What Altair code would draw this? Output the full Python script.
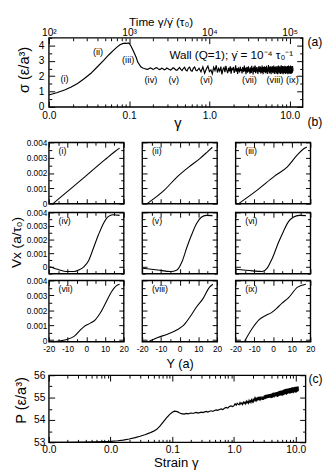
import altair as alt
import numpy as np
import pandas as pd

FONT = "Liberation Sans"

# ---------------- panel (a): shear stress vs strain ----------------
a_gamma_rise = [0.01, 0.0125, 0.0157, 0.019, 0.0228, 0.027, 0.0332, 0.04, 0.0482, 0.056,
                0.0638, 0.07, 0.077, 0.083, 0.089, 0.094, 0.0973, 0.101, 0.105, 0.111,
                0.117, 0.123, 0.128, 0.135, 0.141, 0.148, 0.155, 0.16]
a_sigma_rise = [0.77, 0.92, 1.1, 1.3, 1.53, 1.8, 2.17, 2.6, 3.03, 3.4,
                3.68, 3.88, 4.05, 4.12, 4.15, 4.13, 4.17, 4.12, 3.98, 3.72,
                3.46, 3.2, 2.92, 2.74, 2.6, 2.53, 2.5, 2.47]
a_plateau_range = (0.165, 0.68)
a_sigma_plateau = [2.46, 2.44, 2.5, 2.54, 2.5, 2.45, 2.47, 2.53, 2.56, 2.49,
                   2.43, 2.46, 2.52, 2.48, 2.42, 2.45, 2.53, 2.49, 2.43, 2.4,
                   2.47, 2.55, 2.5, 2.41, 2.38, 2.48, 2.57, 2.44, 2.36, 2.5,
                   2.58, 2.4, 2.34, 2.53, 2.59, 2.37, 2.32, 2.52, 2.6, 2.38]
a_noise_range = (0.7, 11.0)
a_sigma_noise = [
    2.35, 2.52, 2.28, 2.61, 2.19, 2.47, 2.66, 2.3, 2.41, 2.15, 2.58, 2.37, 2.7, 2.24, 2.5, 2.33, 2.62, 2.12, 2.45, 2.56,
    2.26, 2.68, 2.39, 2.2, 2.54, 2.31, 2.64, 2.17, 2.49, 2.43, 2.6, 2.22, 2.36, 2.71, 2.29, 2.51, 2.14, 2.57, 2.4, 2.25,
    2.63, 2.34, 2.48, 2.18, 2.59, 2.42, 2.27, 2.69, 2.32, 2.55, 2.13, 2.46, 2.6, 2.23, 2.38, 2.65, 2.3, 2.5, 2.16, 2.57,
    2.44, 2.21, 2.67, 2.35, 2.53, 2.11, 2.48, 2.62, 2.28, 2.4, 2.7, 2.19, 2.55, 2.33, 2.6, 2.24, 2.45, 2.15, 2.58, 2.37,
    2.66, 2.26, 2.52, 2.31, 2.63, 2.18, 2.47, 2.56, 2.22, 2.69, 2.36, 2.5, 2.13, 2.59, 2.41, 2.27, 2.64, 2.32, 2.54, 2.2,
    2.6, 2.38, 2.25, 2.68, 2.34, 2.49, 2.14, 2.57, 2.43, 2.29, 2.72, 2.3, 2.51, 2.17, 2.62, 2.39, 2.23, 2.65, 2.35, 2.55,
    2.12, 2.58, 2.42, 2.26, 2.67, 2.33, 2.48, 2.19, 2.61, 2.37, 2.24, 2.7, 2.31, 2.53, 2.15, 2.59, 2.44, 2.28, 2.63, 2.36,
    2.5, 2.16, 2.6, 2.4, 2.21, 2.66, 2.34, 2.52, 2.13, 2.57, 2.45, 2.27, 2.69, 2.32, 2.54, 2.18, 2.62, 2.38, 2.25, 2.64,
    2.3, 2.5, 2.14, 2.58, 2.43, 2.22, 2.71, 2.35, 2.49, 2.17, 2.61, 2.39, 2.26, 2.66, 2.33, 2.55, 2.12, 2.59, 2.41, 2.28,
    2.65, 2.31, 2.53, 2.19, 2.6, 2.37, 2.24, 2.68, 2.34, 2.51, 2.15, 2.57, 2.44, 2.29, 2.63, 2.36, 2.48, 2.2, 2.62, 2.4,
    2.23, 2.67, 2.32, 2.54, 2.13, 2.58, 2.42, 2.27, 2.7, 2.35, 2.5, 2.18, 2.61, 2.38, 2.25, 2.65, 2.3, 2.52, 2.16, 2.59,
    2.43, 2.21, 2.69, 2.33, 2.55, 2.14, 2.6, 2.41, 2.28, 2.64, 2.36, 2.49, 2.19, 2.62, 2.39, 2.24, 2.66, 2.31, 2.53, 2.34,
]
a_label_text = ["(i)", "(ii)", "(iii)", "(iv)", "(v)", "(vi)", "(vii)", "(viii)", "(ix)"]
a_label_gamma = [0.0157, 0.041, 0.0973, 0.187, 0.36, 0.92, 3.16, 6.56, 10.8]
a_label_sigma = [1.8, 3.55, 3.08, 1.76, 1.76, 1.76, 1.76, 1.76, 1.76]

# ---------------- panel (b): velocity profiles ----------------
b_names = ["(i)", "(ii)", "(iii)", "(iv)", "(v)", "(vi)", "(vii)", "(viii)", "(ix)"]
b_Y = [
    [-17.8, -10, 0, 10, 15.5, 17.8],
    [-17.4, -8, -1.3, 5, 10.8, 15, 17.5],
    [-18.3, -7.9, 0.7, 7.7, 12.9, 16.4, 18.1],
    [-19.6, -14.3, -10.8, -6.5, -3.9, -1.3, 1.3, 3.9, 6.5, 9.1, 11.7, 14.3, 17.8],
    [-19.8, -11.7, -4.8, -1.4, 1.2, 3.8, 6.4, 9.0, 11.6, 14.2, 17.6],
    [-19.9, -10.9, -5.7, -3.1, -0.5, 3.0, 5.6, 8.2, 10.8, 14.2, 17.6],
    [-17.8, -10.8, -6.5, -3.0, -0.4, 2.2, 4.8, 7.4, 10, 13.4, 16, 17.8],
    [-16.7, -11.7, -6.5, -1.3, 2.2, 5.6, 9.1, 12.6, 16, 17.8],
    [-15.3, -11, -7.5, -4.05, -0.6, 2.0, 5, 8, 13.2, 17.6],
]
b_V = [
    [0, 0.0008, 0.00183, 0.00287, 0.00342, 0.00362],
    [0, 0.0009, 0.00175, 0.0024, 0.00294, 0.0034, 0.00368],
    [0, 0.00093, 0.00178, 0.0024, 0.00316, 0.00358, 0.0037],
    [0, -0.00023, -0.00035, -0.00035, -0.00023, 0, 0.00047, 0.0014, 0.00235, 0.00317, 0.00369, 0.00383, 0.00378],
    [-0.0001, -0.00023, -0.00035, -0.00023, 0.00035, 0.0014, 0.00235, 0.00317, 0.00364, 0.00378, 0.00376],
    [-0.00018, -0.0003, -0.00035, -0.0001, 0.00058, 0.0018, 0.0026, 0.0033, 0.00364, 0.00378, 0.00376],
    [-0.0001, 0.00003, 0.00025, 0.0007, 0.00098, 0.00114, 0.00136, 0.0018, 0.0024, 0.00323, 0.00363, 0.00374],
    [-0.0001, 0.00018, 0.0004, 0.0007, 0.001, 0.00157, 0.00224, 0.0028, 0.00355, 0.00374],
    [-0.0001, 0.0008, 0.00136, 0.00164, 0.00186, 0.00213, 0.0025, 0.0028, 0.00355, 0.00374],
]
b_row_ydom = [[0.0, 0.004], [-0.0005, 0.004], [-0.0001, 0.004]]
b_y_major = [0.0, 0.001, 0.002, 0.003, 0.004]
b_y_minor = [-0.0005, 0.0005, 0.0015, 0.0025, 0.0035]
b_x_major = [-20, -10, 0, 10, 20]
b_x_minor = [-15, -5, 5, 15]

# ---------------- panel (c): pressure vs strain ----------------
c_gamma_rise = [0.001, 0.002, 0.004, 0.006, 0.008, 0.01, 0.013, 0.016, 0.02, 0.025,
                0.03, 0.036, 0.043, 0.05, 0.056, 0.063, 0.071, 0.08, 0.09, 0.1,
                0.108, 0.115, 0.123, 0.13, 0.14, 0.156]
c_P_rise = [53.0, 53.0, 53.01, 53.02, 53.03, 53.04, 53.07, 53.1, 53.15, 53.21,
            53.27, 53.34, 53.42, 53.5, 53.58, 53.72, 53.9, 54.08, 54.24, 54.34,
            54.39, 54.38, 54.36, 54.32, 54.28, 54.26]
c_plateau_range = (0.16, 0.95)
c_P_plateau = [54.27, 54.29, 54.27, 54.30, 54.31, 54.29, 54.32, 54.34, 54.31, 54.33,
               54.35, 54.33, 54.36, 54.38, 54.35, 54.39, 54.41, 54.38, 54.42, 54.45,
               54.43, 54.47, 54.49, 54.46, 54.52, 54.56, 54.53, 54.6, 54.63, 54.6]
c_noise_range = (1.0, 11.0)
c_P_noise = [
    54.64, 54.72, 54.66, 54.75, 54.7, 54.68, 54.78, 54.71, 54.76, 54.69, 54.8, 54.74, 54.79, 54.72, 54.84, 54.77, 54.82, 54.75, 54.87, 54.8, 54.85, 54.78, 54.9, 54.83,
    54.8, 54.95, 54.84, 54.92, 54.98, 54.83, 54.94, 54.88, 55.0, 54.86, 54.96, 54.9, 55.03, 54.87, 54.97, 54.92, 55.04, 54.89, 55.0, 54.94, 55.06, 54.9, 55.02, 54.95,
    54.9, 55.08, 54.96, 55.1, 54.93, 55.04, 55.12, 54.95, 55.06, 55.0, 55.14, 54.97, 55.09, 55.03, 55.15, 54.98, 55.1, 55.05, 55.16, 55.0, 55.12, 55.06, 55.17, 55.02,
    54.98, 55.16, 55.04, 55.19, 55.0, 55.12, 55.21, 55.03, 55.15, 55.08, 55.22, 55.01, 55.17, 55.1, 55.23, 55.05, 55.18, 55.12, 55.24, 55.06, 55.2, 55.13, 55.25, 55.08,
    55.03, 55.23, 55.1, 55.26, 55.05, 55.18, 55.28, 55.07, 55.21, 55.14, 55.29, 55.08, 55.24, 55.16, 55.3, 55.1, 55.25, 55.18, 55.31, 55.11, 55.27, 55.2, 55.32, 55.13,
    55.08, 55.3, 55.15, 55.33, 55.1, 55.24, 55.34, 55.12, 55.27, 55.19, 55.36, 55.13, 55.3, 55.21, 55.37, 55.15, 55.31, 55.23, 55.38, 55.16, 55.33, 55.25, 55.39, 55.18,
    55.13, 55.35, 55.2, 55.38, 55.15, 55.29, 55.39, 55.17, 55.32, 55.24, 55.4, 55.18, 55.34, 55.26, 55.41, 55.2, 55.36, 55.27, 55.42, 55.21, 55.37, 55.29, 55.43, 55.22,
    55.17, 55.39, 55.24, 55.41, 55.19, 55.32, 55.43, 55.2, 55.35, 55.27, 55.44, 55.21, 55.37, 55.29, 55.45, 55.23, 55.38, 55.3, 55.46, 55.24, 55.4, 55.31, 55.46, 55.25,
    55.2, 55.42, 55.27, 55.44, 55.22, 55.35, 55.45, 55.23, 55.38, 55.3, 55.47, 55.24, 55.4, 55.32, 55.47, 55.25, 55.41, 55.33, 55.48, 55.26, 55.42, 55.34, 55.48, 55.27,
    55.22, 55.44, 55.29, 55.46, 55.24, 55.37, 55.47, 55.25, 55.4, 55.32, 55.49, 55.26, 55.42, 55.34, 55.49, 55.27, 55.43, 55.35, 55.5, 55.28, 55.44, 55.36, 55.5, 55.29,
]

log_major_a = [0.01, 0.1, 1, 10]
log_minor_a = [m * d for d in (0.01, 0.1, 1) for m in range(2, 10)]
log_major_c = [0.001, 0.01, 0.1, 1, 10]
log_minor_c = [m * d for d in (0.001, 0.01, 0.1, 1) for m in range(2, 10)]


def one():
    return alt.Data(values=[{}])


def ax(orient, values, size, lab=None):
    kw = dict(orient=orient, values=values, tickSize=size, offset=-size, domain=False,
              grid=False, title=None, ticks=True, tickColor="black", tickWidth=1)
    if lab:
        kw.update(labels=True, labelFlush=False, labelOverlap=False, labelColor="black",
                  labelFont=FONT, **lab)
    else:
        kw.update(labels=False)
    return alt.Axis(**kw)


def txt(s, x, y, size, angle=None, align="center", baseline="middle"):
    kw = dict(text=s, fontSize=size, align=align, baseline=baseline, font=FONT, color="black")
    if angle is not None:
        kw["angle"] = angle
    return alt.Chart(one()).mark_text(**kw).encode(x=alt.value(x), y=alt.value(y))


def vrule(x):
    return alt.Chart(one()).mark_rule(opacity=0, strokeWidth=0.2).encode(
        x=alt.value(x), y=alt.value(0), y2=alt.value(1))


def hrule(y):
    return alt.Chart(one()).mark_rule(opacity=0, strokeWidth=0.2).encode(
        x=alt.value(0), x2=alt.value(1), y=alt.value(y))


def panel(df, xs, ys, xdom, ydom, xmaj, xmin, ymaj, ymin, tmaj, tmin, w, h,
          bottom_lab=None, left_lab=None, top_lab=None, extras=(), interp="linear", sw=1.1):
    dummy = alt.Data(values=[{"u": xdom[0], "v": ydom[0]}])
    main = alt.Chart(df).mark_line(color="black", strokeWidth=sw, interpolate=interp).encode(
        x=alt.X("x:Q", scale=xs, axis=ax("bottom", xmaj, tmaj, bottom_lab)),
        y=alt.Y("y:Q", scale=ys, axis=ax("left", ymaj, tmaj, left_lab)),
    )
    l1 = alt.Chart(dummy).mark_point(opacity=0).encode(
        x=alt.X("u:Q", scale=xs, axis=ax("bottom", xmin, tmin)),
        y=alt.Y("v:Q", scale=ys, axis=ax("left", ymin, tmin)))
    l2 = alt.Chart(dummy).mark_point(opacity=0).encode(
        x=alt.X("u:Q", scale=xs, axis=ax("top", xmaj, tmaj, top_lab)),
        y=alt.Y("v:Q", scale=ys, axis=ax("right", ymaj, tmaj)))
    l3 = alt.Chart(dummy).mark_point(opacity=0).encode(
        x=alt.X("u:Q", scale=xs, axis=ax("top", xmin, tmin)),
        y=alt.Y("v:Q", scale=ys, axis=ax("right", ymin, tmin)))
    return alt.layer(main, l1, l2, l3, *extras).resolve_axis(
        x="independent", y="independent").properties(width=w, height=h)


# ---------------- build (a) ----------------
a_gamma = (a_gamma_rise
           + list(np.geomspace(a_plateau_range[0], a_plateau_range[1], len(a_sigma_plateau)))
           + list(np.linspace(a_noise_range[0], a_noise_range[1], len(a_sigma_noise))))
a_sigma = a_sigma_rise + a_sigma_plateau + a_sigma_noise
df_a = pd.DataFrame({"x": a_gamma, "y": a_sigma})
AW, AH = 261, 71
xa_dom, ya_dom = [0.01, 14.5], [0, 4.5]
xs_a = alt.Scale(type="log", domain=xa_dom, nice=False)
ys_a = alt.Scale(type="linear", domain=ya_dom, nice=False, zero=False)
df_a_lab = pd.DataFrame({"g": a_label_gamma, "s": a_label_sigma, "t": a_label_text})
a_labels = alt.Chart(df_a_lab).mark_text(fontSize=9.5, font=FONT, color="black").encode(
    x=alt.X("g:Q", scale=xs_a, axis=None), y=alt.Y("s:Q", scale=ys_a, axis=None), text="t:N")
top_expr = ("datum.value < 0.05 ? '10\u00b2' : datum.value < 0.5 ? '10\u00b3' : "
            "datum.value < 5 ? '10\u2074' : '10\u2075'")
chart_a = panel(
    df_a, xs_a, ys_a, xa_dom, ya_dom, log_major_a, log_minor_a,
    [0, 1, 2, 3, 4], [0.5, 1.5, 2.5, 3.5, 4.5], 6, 3, AW, AH,
    bottom_lab=dict(format=".1f", labelFontSize=10.5, labelPadding=4),
    left_lab=dict(labelExpr="'' + datum.value", labelFontSize=10.5, labelPadding=5),
    top_lab=dict(labelExpr=top_expr, labelFontSize=10.5, labelPadding=0),
    extras=[
        a_labels,
        txt("Time \u03b3/\u03b3\u0307 (\u03c4\u2080)", 115.5, -12.5, 12, baseline="alphabetic"),
        txt("\u03b3", 132.7, AH + 17, 15),
        txt("\u03c3 (\u03b5/a\u00b3)", -25, 33, 15, angle=270),
        txt("(a)", 266, 4, 12.5, align="left"),
        txt("(b)", 266, AH + 16, 12.5, align="left"),
        txt("Wall (Q=1); \u03b3\u0307 = 10\u207b\u2074 \u03c4\u2080\u207b\u00b9", 124, 18, 12, align="left"),
        vrule(-41), hrule(-22.5), hrule(AH + 33.5),
    ],
    sw=1.2,
)

# ---------------- build (b) ----------------
BW, BH = 77, 63
b_panels = []
for i in range(9):
    r, c = divmod(i, 3)
    df_b = pd.DataFrame({"x": b_Y[i], "y": b_V[i]})
    ydom = b_row_ydom[r]
    xs_b = alt.Scale(type="linear", domain=[-20, 20], nice=False, zero=False)
    ys_b = alt.Scale(type="linear", domain=ydom, nice=False, zero=False)
    extras = [txt(b_names[i], 10, 9, 9, align="left")]
    if i == 3:
        extras.append(txt("Vx (a/\u03c4\u2080)", -33, 31, 14, angle=270))
    if i == 7:
        extras.append(txt("Y (a)", 39, BH + 23.5, 13))
    b_panels.append(panel(
        df_b, xs_b, ys_b, [-20, 20], ydom, b_x_major, b_x_minor, b_y_major, b_y_minor, 5, 3,
        BW, BH,
        bottom_lab=(dict(labelExpr="'' + datum.value", labelFontSize=8.5, labelPadding=3)
                    if r == 2 else None),
        left_lab=(dict(labelExpr="datum.value == 0 ? '0' : format(datum.value, '.3f')",
                       labelFontSize=8.5, labelPadding=2) if c == 0 else None),
        extras=extras, interp="monotone", sw=1.1,
    ))
grid_b = alt.concat(*b_panels, columns=3, spacing={"row": -2, "column": 6}, align="each")

# ---------------- build (c) ----------------
c_gamma = (c_gamma_rise
           + list(np.geomspace(c_plateau_range[0], c_plateau_range[1], len(c_P_plateau)))
           + list(np.linspace(c_noise_range[0], c_noise_range[1], len(c_P_noise))))
c_P = c_P_rise + c_P_plateau + c_P_noise
df_c = pd.DataFrame({"x": c_gamma, "y": c_P})
CW, CH = 264, 69
xc_dom, yc_dom = [0.001, 14.4], [53, 56]
xs_c = alt.Scale(type="log", domain=xc_dom, nice=False)
ys_c = alt.Scale(type="linear", domain=yc_dom, nice=False, zero=False)
chart_c = panel(
    df_c, xs_c, ys_c, xc_dom, yc_dom, log_major_c, log_minor_c,
    [53, 54, 55, 56], [53.5, 54.5, 55.5], 6, 3, CW, CH,
    bottom_lab=dict(format=".1f", labelFontSize=10.5, labelPadding=2.5),
    left_lab=dict(labelExpr="'' + datum.value", labelFontSize=10.5, labelPadding=4),
    extras=[
        txt("P (\u03b5/a\u00b3)", -28.5, 26, 15, angle=270),
        txt("Strain \u03b3", 131, CH + 21, 13.5),
        txt("(c)", 267, 4, 12.5, align="left"),
        vrule(-41),
    ],
    sw=1.2,
)

chart = alt.vconcat(chart_a, grid_b, chart_c, spacing=-3.5).properties(
    padding=0, background="white"
).configure_view(stroke="black", strokeWidth=1.4).configure_axis(
    labelFont=FONT, labelColor="black", tickColor="black"
).configure_text(font=FONT)

chart.save("out.html", embed_options={"renderer": "svg", "actions": False})
